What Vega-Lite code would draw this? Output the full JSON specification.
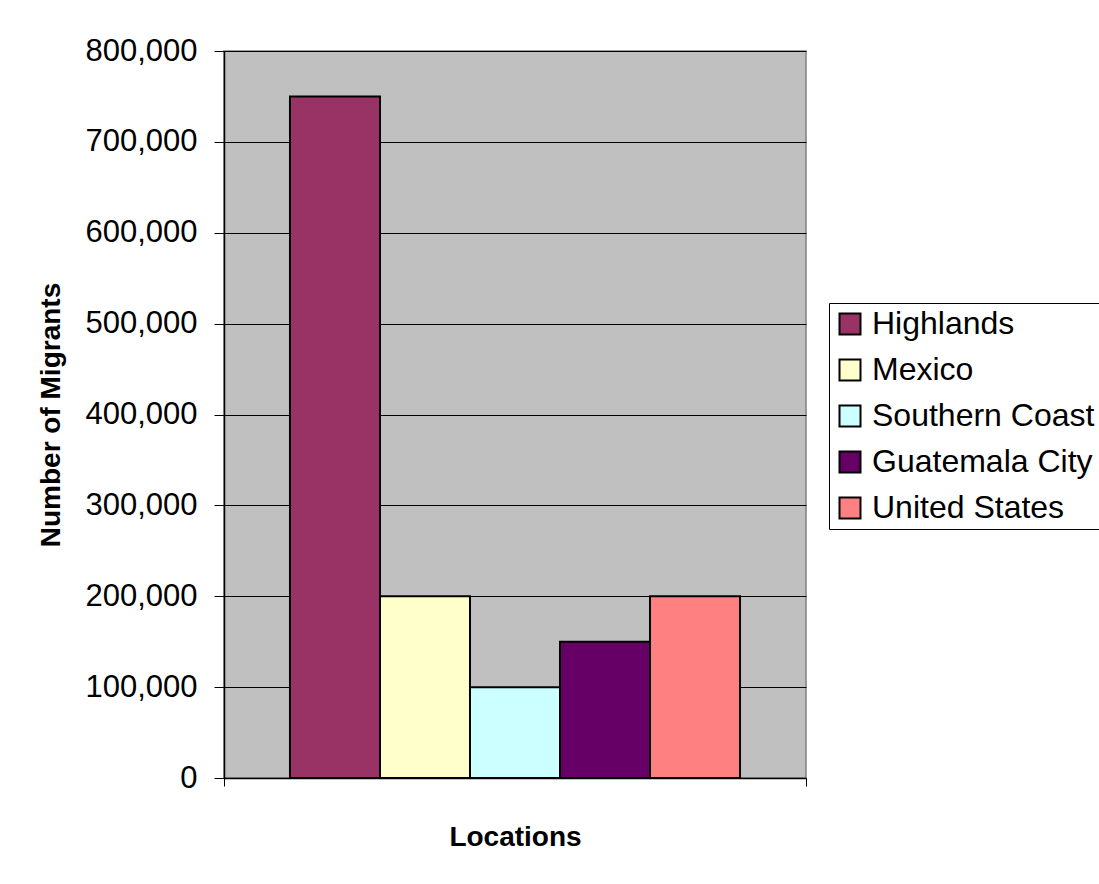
{
  "$schema": "https://vega.github.io/schema/vega-lite/v6.json",
  "autosize": {"type": "none"},
  "width": 582,
  "height": 727,
  "padding": {"left": 224, "top": 51, "right": 293, "bottom": 106},
  "background": "white",
  "config": {
    "font": "Liberation Sans",
    "view": {"fill": "#C0C0C0", "stroke": "#808080", "strokeWidth": 1.5}
  },
  "data": {
    "values": [
      {"location": "Locations", "series": "Highlands", "migrants": 750000},
      {"location": "Locations", "series": "Mexico", "migrants": 200000},
      {"location": "Locations", "series": "Southern Coast", "migrants": 100000},
      {"location": "Locations", "series": "Guatemala City", "migrants": 150000},
      {"location": "Locations", "series": "United States", "migrants": 200000}
    ]
  },
  "mark": {"type": "bar", "stroke": "black", "strokeWidth": 2, "opacity": 1},
  "encoding": {
    "x": {
      "field": "location",
      "type": "nominal",
      "scale": {"paddingInner": 0, "paddingOuter": 0},
      "axis": {
        "labels": false,
        "title": "Locations",
        "titleFontSize": 28,
        "titleFontWeight": "bold",
        "titleColor": "black",
        "titlePadding": 37,
        "tickBand": "extent",
        "tickSize": 8,
        "tickColor": "black",
        "domainColor": "black",
        "domainWidth": 1.5
      }
    },
    "xOffset": {
      "field": "series",
      "type": "nominal",
      "sort": ["Highlands", "Mexico", "Southern Coast", "Guatemala City", "United States"],
      "scale": {"paddingInner": 0, "paddingOuter": 0.733}
    },
    "y": {
      "field": "migrants",
      "type": "quantitative",
      "scale": {"domain": [0, 800000], "nice": false},
      "axis": {
        "title": "Number of Migrants",
        "titleFontSize": 28,
        "titleFontWeight": "bold",
        "titleColor": "black",
        "titlePadding": 19,
        "format": ",.0f",
        "values": [0, 100000, 200000, 300000, 400000, 500000, 600000, 700000, 800000],
        "labelFontSize": 31,
        "labelColor": "black",
        "labelPadding": 17,
        "tickSize": 10,
        "tickColor": "black",
        "domainColor": "black",
        "domainWidth": 1.5,
        "grid": true,
        "gridColor": "black",
        "gridWidth": 1
      }
    },
    "color": {
      "field": "series",
      "type": "nominal",
      "sort": ["Highlands", "Mexico", "Southern Coast", "Guatemala City", "United States"],
      "scale": {
        "domain": ["Highlands", "Mexico", "Southern Coast", "Guatemala City", "United States"],
        "range": ["#993366", "#FFFFCC", "#CCFFFF", "#660066", "#FF8080"]
      },
      "legend": {
        "title": null,
        "orient": "none",
        "legendX": 605,
        "legendY": 252,
        "fillColor": "white",
        "strokeColor": "black",
        "padding": 5,
        "symbolType": "square",
        "symbolSize": 441,
        "symbolStrokeColor": "black",
        "symbolStrokeWidth": 2,
        "symbolOpacity": 1,
        "labelFontSize": 32,
        "labelColor": "black",
        "labelOffset": 6,
        "labelLimit": 400,
        "rowPadding": 14
      }
    }
  }
}
